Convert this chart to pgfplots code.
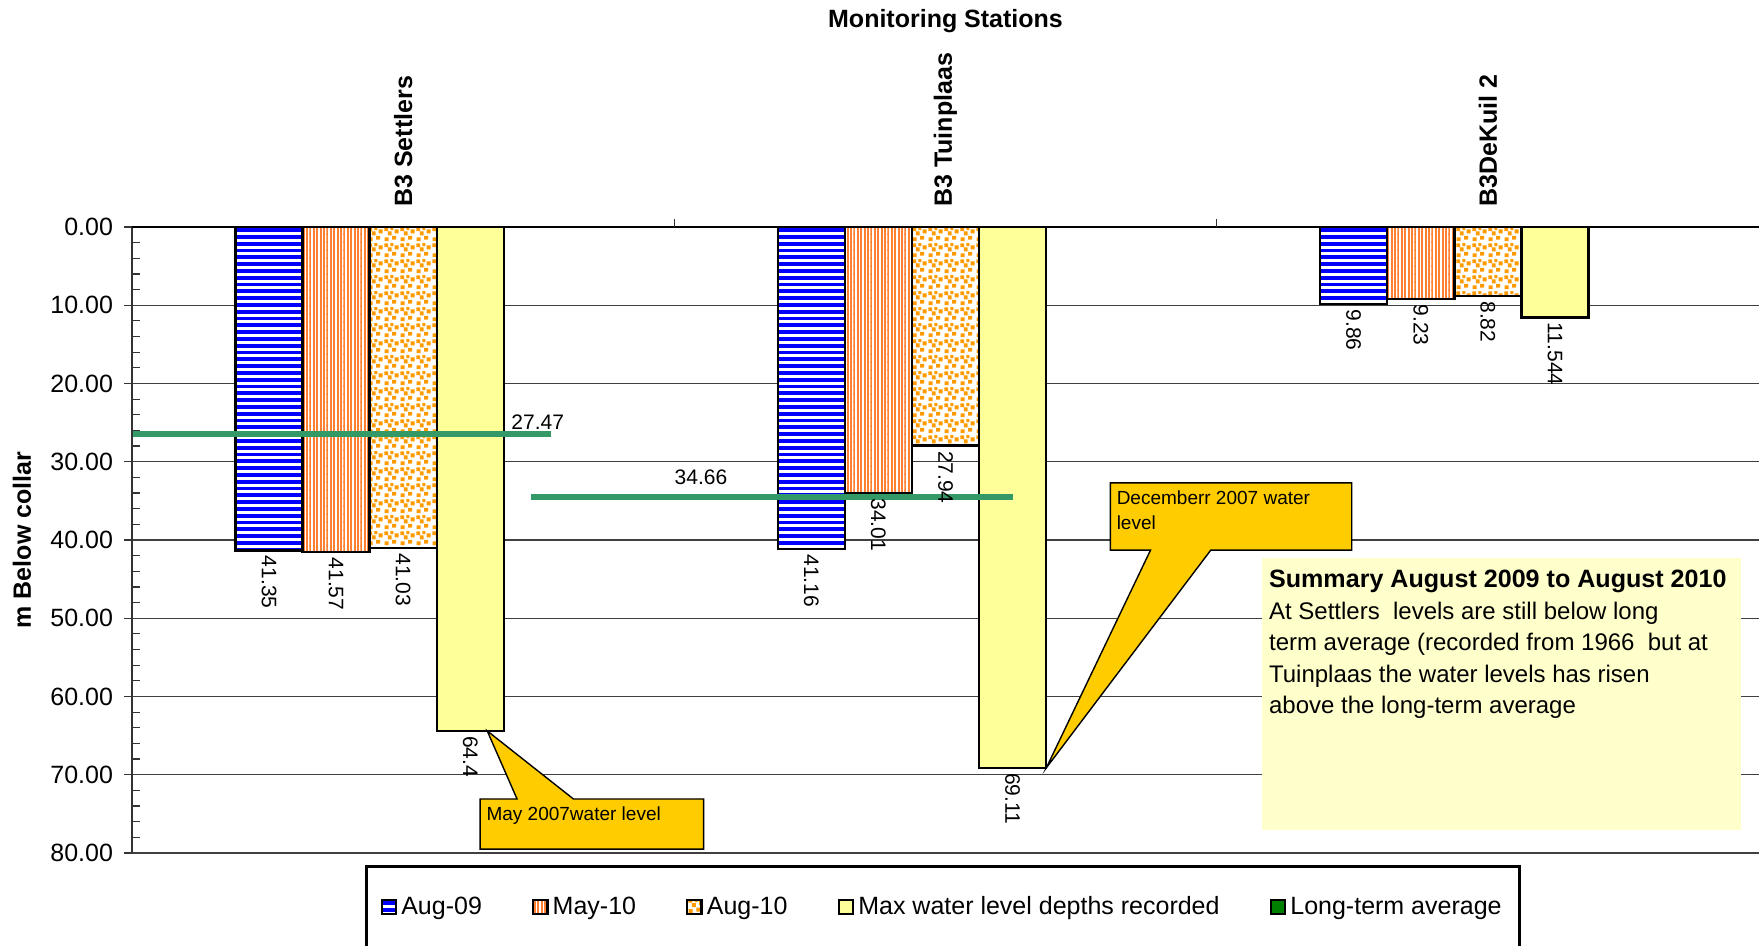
\documentclass[border=0pt]{standalone}
\usepackage{pgfplots}
\pgfplotsset{compat=1.18}
\usepackage{fontspec}
\setmainfont{Liberation Sans}
\usetikzlibrary{patterns}

\definecolor{stripeblue}{RGB}{0,0,255}
\definecolor{stripeorange}{RGB}{255,128,48}
\definecolor{dotorange}{RGB}{255,153,0}
\definecolor{paleyellow}{RGB}{255,255,153}
\definecolor{calloutgold}{RGB}{255,204,0}
\definecolor{notebg}{RGB}{255,255,204}
\definecolor{seagreen}{RGB}{51,153,102}
\definecolor{legendgreen}{RGB}{0,128,0}

\pgfdeclarepatternformonly{hstripes}{\pgfpoint{-0.6pt}{0pt}}{\pgfpoint{4.6pt}{3.4pt}}{\pgfpoint{4pt}{3.4pt}}{%
  \pgfsetlinewidth{1.9pt}%
  \pgfpathmoveto{\pgfpoint{-0.6pt}{0.95pt}}\pgfpathlineto{\pgfpoint{4.6pt}{0.95pt}}\pgfusepath{stroke}}
\pgfdeclarepatternformonly{vstripes}{\pgfpoint{0pt}{-0.6pt}}{\pgfpoint{1.7pt}{4.6pt}}{\pgfpoint{1.7pt}{4pt}}{%
  \pgfsetlinewidth{1.0pt}%
  \pgfpathmoveto{\pgfpoint{0.5pt}{-0.6pt}}\pgfpathlineto{\pgfpoint{0.5pt}{4.6pt}}\pgfusepath{stroke}}
\pgfdeclarepatternformonly{sqdots}{\pgfpointorigin}{\pgfpoint{8pt}{8pt}}{\pgfpoint{8pt}{8pt}}{%
  \pgfpathrectangle{\pgfpoint{0.3pt}{0.4pt}}{\pgfpoint{2.1pt}{2.1pt}}%
  \pgfpathrectangle{\pgfpoint{4.3pt}{1.2pt}}{\pgfpoint{2.1pt}{2.1pt}}%
  \pgfpathrectangle{\pgfpoint{2.0pt}{3.5pt}}{\pgfpoint{2.1pt}{2.1pt}}%
  \pgfpathrectangle{\pgfpoint{5.7pt}{4.6pt}}{\pgfpoint{2.1pt}{2.1pt}}%
  \pgfpathrectangle{\pgfpoint{0.2pt}{5.8pt}}{\pgfpoint{2.0pt}{2.0pt}}%
  \pgfpathrectangle{\pgfpoint{3.4pt}{6.3pt}}{\pgfpoint{1.6pt}{1.6pt}}%
  \pgfusepath{fill}}

\pgfplotsset{
  sqlegend/.style={legend image code/.code={\draw[##1] (0pt,-3.6pt) rectangle (7.2pt,3.6pt);}},
  barlbl/.style={draw=none, mark=none, forget plot, point meta=explicit symbolic,
    nodes near coords,
    every node near coord/.append style={rotate=-90, anchor=west, font=\fontsize{10.5}{12}\selectfont, inner sep=2.5pt, text=black}},
}

\begin{document}
\begin{tikzpicture}
\begin{axis}[
  scale only axis, width=813.5pt, height=313pt,
  xmin=-0.5, xmax=2.5, ymin=0, ymax=80, y dir=reverse,
  xtick=\empty,
  ytick={0,10,...,80}, minor y tick num=4,
  ytick pos=left,
  yticklabel={\pgfmathprintnumber[fixed,fixed zerofill,precision=2,assume math mode=true]{\tick}},
  yticklabel style={font=\fontsize{12.5}{15}\selectfont, xshift=-6pt},
  tick align=inside, major tick length=4pt, minor tick length=4pt,
  major tick style={xshift=-4pt, black!80, line width=0.6pt},
  minor tick style={black!80, line width=0.6pt},
  axis line style={draw=none},
  ymajorgrids, major grid style={black!75, line width=0.6pt},
  clip=false,
  legend columns=5,
  legend cell align=left,
  legend style={at={(0.4985,0)}, anchor=north, yshift=-6pt, draw=black, line width=1.5pt,
    inner xsep=7pt, inner ysep=13pt, font=\fontsize{12.5}{15}\selectfont,
    /tikz/every even column/.append style={column sep=23pt}},
]
\coordinate (plotTL) at (axis cs:-0.5,0);
\coordinate (plotBR) at (axis cs:2.5,80);

% Aug-09
\addplot[ybar, bar width=0.1237, bar shift=-0.2474, preaction={fill=white},
  pattern=hstripes, pattern color=stripeblue, draw=black, line width=1.2pt, sqlegend]
  coordinates {(0,41.35) (1,41.16) (2,9.86)};
\addlegendentry{Aug-09}
% May-10
\addplot[ybar, bar width=0.1237, bar shift=-0.1237, preaction={fill=white},
  pattern=vstripes, pattern color=stripeorange, draw=black, line width=1.2pt, sqlegend]
  coordinates {(0,41.57) (1,34.01) (2,9.23)};
\addlegendentry{May-10}
% Aug-10
\addplot[ybar, bar width=0.1237, bar shift=0, preaction={fill=white},
  pattern=sqdots, pattern color=dotorange, draw=black, line width=1.2pt, sqlegend]
  coordinates {(0,41.03) (1,27.94) (2,8.82)};
\addlegendentry{Aug-10}
% Max
\addplot[ybar, bar width=0.1237, bar shift=0.1237, fill=paleyellow, draw=black,
  line width=1.2pt, sqlegend]
  coordinates {(0,64.4) (1,69.11) (2,11.544)};
\addlegendentry{Max water level depths recorded}
% Long-term average
\addplot[seagreen, line width=3pt, forget plot] coordinates {(-0.5,26.45) (0.273,26.45)};
\addplot[seagreen, line width=3pt, forget plot] coordinates {(0.236,34.55) (1.125,34.55)};
\addlegendimage{fill=legendgreen, draw=black, line width=1.2pt, sqlegend}
\addlegendentry{Long-term average}

% value labels under the bars
\addplot[barlbl] coordinates {(-0.2474,41.35) [41.35] (0.7526,41.16) [41.16] (1.7526,9.86) [9.86]};
\addplot[barlbl] coordinates {(-0.1237,41.57) [41.57] (0.8763,34.01) [34.01] (1.8763,9.23) [9.23]};
\addplot[barlbl] coordinates {(0,41.03) [41.03] (1,27.94) [27.94] (2,8.82) [8.82]};
\addplot[barlbl] coordinates {(0.1237,64.4) [64.4] (1.1237,69.11) [69.11] (2.1237,11.544) [11.544]};

\node[anchor=south west, inner sep=0pt, font=\fontsize{10.5}{12}\selectfont] at (axis cs:0.199,25.95) {27.47};
\node[anchor=south west, inner sep=0pt, font=\fontsize{10.5}{12}\selectfont] at (axis cs:0.5,32.97) {34.66};

% axis lines
\draw[black!80, line width=0.8pt] (axis cs:-0.5,0) -- (axis cs:-0.5,80);
\draw[black, line width=0.8pt] (axis cs:-0.5,0) -- (axis cs:2.5,0);
\draw[black!80, line width=0.6pt] (axis cs:0.5,0) -- ([yshift=4pt]axis cs:0.5,0);
\draw[black!80, line width=0.6pt] (axis cs:1.5,0) -- ([yshift=4pt]axis cs:1.5,0);

% callouts
\filldraw[fill=calloutgold, draw=black, line width=0.7pt]
  (axis cs:0.142,73.1) -- (axis cs:0.210,73.1) -- (axis cs:0.155,64.4) -- (axis cs:0.314,73.1)
  -- (axis cs:0.554,73.1) -- (axis cs:0.554,79.5) -- (axis cs:0.142,79.5) -- cycle;
\node[anchor=north west, inner sep=0pt, font=\fontsize{9.5}{12.5}\selectfont]
  at ([xshift=3pt,yshift=-3.5pt]axis cs:0.142,73.1) {May 2007water level};
\filldraw[fill=calloutgold, draw=black, line width=0.7pt]
  (axis cs:1.304,32.7) -- (axis cs:1.749,32.7) -- (axis cs:1.749,41.3) -- (axis cs:1.489,41.3)
  -- (axis cs:1.186,69.11) -- (axis cs:1.378,41.3) -- (axis cs:1.304,41.3) -- cycle;
\node[anchor=north west, inner sep=0pt, align=left, font=\fontsize{9.5}{12.5}\selectfont]
  at ([xshift=3pt,yshift=-3.5pt]axis cs:1.304,32.7) {Decemberr 2007 water\\level};

% summary note
\fill[notebg] (axis cs:1.583,42.3) rectangle (axis cs:2.467,77.1);
\node[anchor=north west, inner sep=0pt, align=left, font=\fontsize{12}{15.7}\selectfont]
  at ([xshift=3.5pt,yshift=-6pt]axis cs:1.583,42.3)
  {{\bfseries\fontsize{12.55}{15.7}\selectfont Summary August 2009 to August 2010}\\
   At Settlers\ \ levels are still below long\\
   term average (recorded from 1966\ \ but at\\
   Tuinplaas the water levels has risen\\
   above the long-term average};

% category labels, title, y label
\node[rotate=90, anchor=west, inner sep=0pt, font=\bfseries\fontsize{12.5}{15}\selectfont] at ([yshift=10pt]axis cs:0,0) {B3 Settlers};
\node[rotate=90, anchor=west, inner sep=0pt, font=\bfseries\fontsize{12.5}{15}\selectfont] at ([yshift=10pt]axis cs:1,0) {B3 Tuinplaas};
\node[rotate=90, anchor=west, inner sep=0pt, font=\bfseries\fontsize{12.5}{15}\selectfont] at ([yshift=10pt]axis cs:2,0) {B3DeKuil 2};
\node[font=\bfseries\fontsize{12.5}{15}\selectfont] at ([yshift=103pt]axis cs:1,0) {Monitoring Stations};
\node[rotate=90, font=\bfseries\fontsize{12.5}{15}\selectfont] at ([xshift=-55pt]axis cs:-0.5,40) {m Below collar};
\end{axis}
\pgfresetboundingbox
\path[use as bounding box] ([xshift=-66pt,yshift=113.5pt]plotTL) rectangle ([yshift=-46.5pt]plotBR);
\end{tikzpicture}
\end{document}
